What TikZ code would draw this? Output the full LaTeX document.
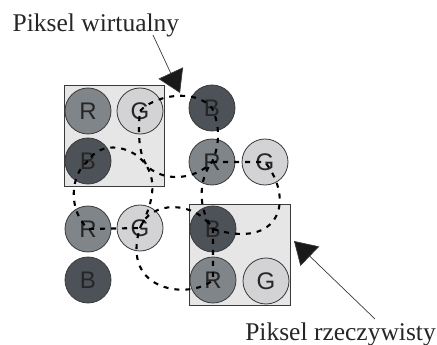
\documentclass[tikz,border=0pt]{standalone}
\usepackage{fontspec}
\setmainfont{Liberation Serif}
\newfontfamily\subfont{Liberation Sans}
\usetikzlibrary{arrows.meta}
\definecolor{redsub}{HTML}{808589}
\definecolor{greensub}{HTML}{D3D3D5}
\definecolor{bluesub}{HTML}{4C5257}
\definecolor{pixbg}{HTML}{E6E6E6}
\definecolor{edge}{HTML}{3A3A3A}
\tikzset{
  sub/.style={circle, draw=edge, line width=0.8pt, minimum size=46pt, inner sep=0pt,
              font=\subfont\fontsize{24}{24}\selectfont, text=black!85},
  subR/.style={sub, fill=redsub},
  subG/.style={sub, fill=greensub},
  subB/.style={sub, fill=bluesub},
  realpix/.style={draw=edge, line width=1pt, fill=pixbg},
  virt/.style={line width=2.1pt, dash pattern=on 5pt off 6pt, black},
  pointer/.style={draw=edge, line width=0.7pt, -{Triangle[length=22pt, width=27pt, fill=black!90]}},
  caption/.style={inner sep=0pt, font=\fontsize{25.5}{25.5}\selectfont, text=black!85}
}
\begin{document}
\begin{tikzpicture}[x=1pt, y=-1pt]
\useasboundingbox (0,0) rectangle (437,345);

% real pixels (square backgrounds)
\draw[realpix] (64,86) rectangle (164,186);
\draw[realpix] (189,204) rectangle (290,305);

% sub-pixels
\node[subR] (r1) at (88,111) {R};
\node[subG] (g1) at (140,111) {G};
\node[subB] (b1) at (88,161) {B};
\node[subB] (b2) at (212,108) {B};
\node[subR] (r2) at (212,162) {R};
\node[subG] (g2) at (265,162) {G};
\node[subR] (r3) at (88,229) {R};
\node[subG] (g3) at (140,228) {G};
\node[subB] (b4) at (88,280) {B};
\node[subB] (b3) at (213,229) {B};
\node[subR] (r4) at (213,280) {R};
\node[subG] (g4) at (266,281) {G};

% virtual pixels: dashed loops through sub-pixel centres
\draw[virt] (g1.center) .. controls (155,95) and (195,88) .. (b2.center)
  .. controls (220,125) and (220,145) .. (r2.center)
  .. controls (195,180) and (165,182) .. (148,167)
  .. controls (138,155) and (138,130) .. (g1.center);
\draw[virt] (b1.center) .. controls (70,175) and (68,210) .. (r3.center)
  -- (g3.center)
  .. controls (155,200) and (158,175) .. (140,158)
  .. controls (125,145) and (100,142) .. (b1.center);
\draw[virt] (g3.center) .. controls (150,200) and (195,200) .. (b3.center)
  -- (r4.center)
  .. controls (190,300) and (120,292) .. (g3.center);
\draw[virt] (r2.center) -- (g2.center)
  .. controls (295,200) and (280,250) .. (b3.center)
  .. controls (198,210) and (198,180) .. (r2.center);

% captions and pointers
\node[caption, anchor=base west] (lblv) at (12.5,31.7) {Piksel wirtualny};
\node[caption, anchor=base east] (lblr) at (436,340) {Piksel rzeczywisty};
\coordinate (vtail) at (153,35);
\coordinate (vtip) at (180,93);
\coordinate (rtail) at (375,319);
\coordinate (rtip) at (294,241);
\draw[pointer] (vtail) -- (vtip);
\draw[pointer] (rtail) -- (rtip);
\end{tikzpicture}
\end{document}
